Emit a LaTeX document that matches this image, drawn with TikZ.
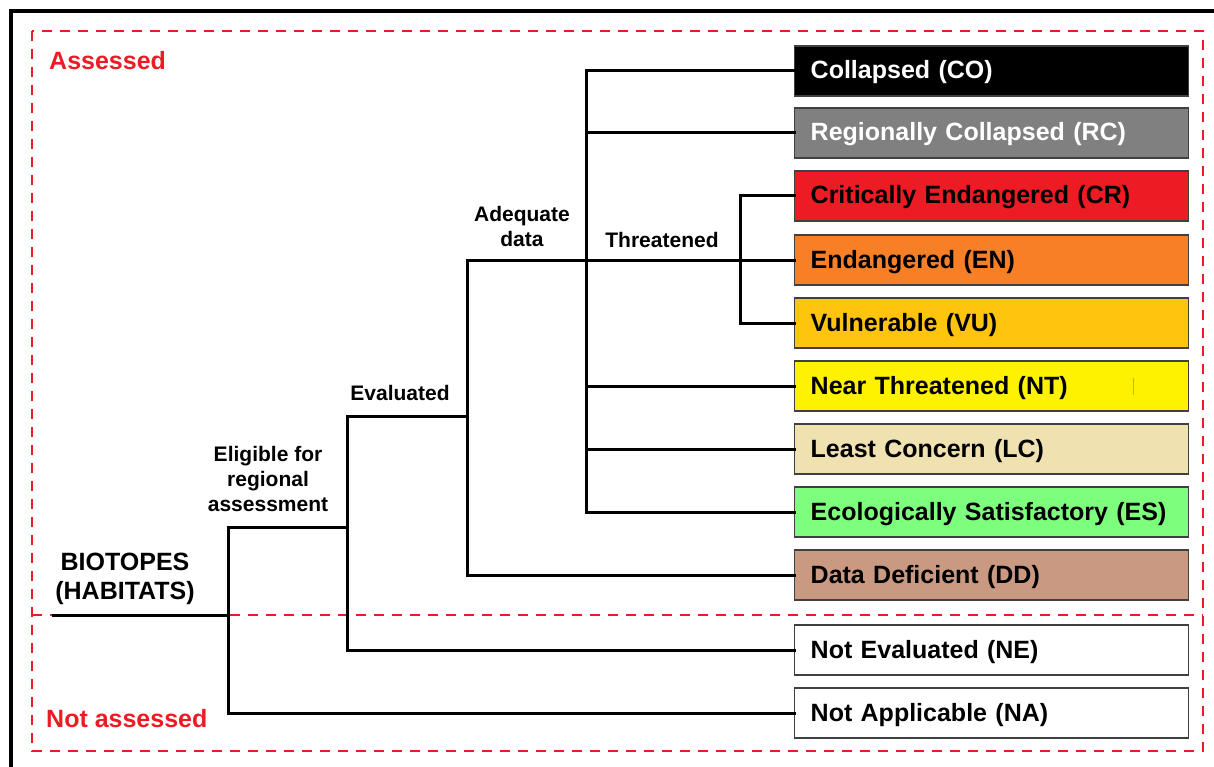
\documentclass[tikz,border=0pt]{standalone}
\usepackage{fontspec}
\setmainfont{Liberation Sans}
\begin{document}
\begin{tikzpicture}[x=1pt,y=-1pt,
  box/.style={draw=boxline, line width=1.4pt, minimum height=50pt, text width=362pt,
    text height=20pt, text depth=4pt,
    inner xsep=16pt, inner ysep=0pt, align=left, anchor=west,
    font=\fontsize{25}{28}\selectfont\bfseries},
  tree/.style={line width=3pt, line cap=rect},
  lbl/.style={align=center, inner sep=0pt, font=\fontsize{21}{25}\selectfont\bfseries},
  zone/.style={draw=zonered, line width=1.5pt, dash pattern=on 10pt off 8pt},
  zonelbl/.style={anchor=west, inner sep=0pt, text=zonered, font=\fontsize{25}{28}\selectfont\bfseries}]
\definecolor{boxline}{RGB}{64,64,64}
\definecolor{zonered}{RGB}{237,28,36}
\definecolor{cRC}{RGB}{128,128,128}
\definecolor{cCR}{RGB}{237,28,36}
\definecolor{cEN}{RGB}{247,127,38}
\definecolor{cVU}{RGB}{255,197,14}
\definecolor{cNT}{RGB}{255,242,0}
\definecolor{cLC}{RGB}{239,225,176}
\definecolor{cES}{RGB}{125,255,125}
\definecolor{cDD}{RGB}{201,153,130}
\useasboundingbox (0,0) rectangle (1214,767);
% outer frame
\draw[line width=4pt] (11,767) -- (11,11) -- (1214,11);
% red dashed zones
\draw[zone] (32,31) rectangle (1203,751);
\draw[zone] (32,615) -- (1203,615);
\node[zonelbl] (assessed) at (49,61) {Assessed};
\node[zonelbl] (notassessed) at (46,719) {Not assessed};
% boxes
\node[box, fill=black, text=white] (co) at (794,71) {Collapsed (CO)};
\node[box, fill=cRC, text=white] (rc) at (794,133) {Regionally Collapsed (RC)};
\node[box, fill=cCR] (cr) at (794,196) {Critically Endangered (CR)};
\node[box, fill=cEN] (en) at (794,260) {Endangered (EN)};
\node[box, fill=cVU] (vu) at (794,323) {Vulnerable (VU)};
\node[box, fill=cNT] (nt) at (794,386) {Near Threatened (NT)};
\node[box, fill=cLC] (lc) at (794,449) {Least Concern (LC)};
\node[box, fill=cES] (es) at (794,512) {Ecologically Satisfactory (ES)};
\node[box, fill=cDD] (dd) at (794,575) {Data Deficient (DD)};
\node[box, fill=white] (ne) at (794,650) {Not Evaluated (NE)};
\node[box, fill=white] (na) at (794,713) {Not Applicable (NA)};
\draw[green!70!yellow, line width=1pt] (1133,378) -- (1133,395);
% tree junctions
\coordinate (root) at (53,615);
\coordinate (a) at (228,527);
\coordinate (b) at (347,416);
\coordinate (c) at (467,260);
\coordinate (d) at (586,260);
\coordinate (e) at (740,260);
\draw[tree] (root) -- (root -| a);
\draw[tree] (na.west) -| (a) -| (b);
\draw[tree] (ne.west) -| (b) -| (c);
\draw[tree] (dd.west) -| (c) -- (en.west);
\draw[tree] (co.west) -| (es.west -| d) -- (es.west);
\draw[tree] (d |- rc.west) -- (rc.west);
\draw[tree] (d |- nt.west) -- (nt.west);
\draw[tree] (d |- lc.west) -- (lc.west);
\draw[tree] (cr.west) -| (vu.west -| e) -- (vu.west);
% labels
\node[lbl, font=\fontsize{25}{29}\selectfont\bfseries] (biotopes) at (125,579) {BIOTOPES\\(HABITATS)};
\node[lbl] (eligible) at (268,479) {Eligible for\\regional\\assessment};
\node[lbl] (evaluated) at (400,393) {Evaluated};
\node[lbl] (adequate) at (522,226) {Adequate\\data};
\node[lbl] (threatened) at (662,240) {Threatened};
\end{tikzpicture}
\end{document}
